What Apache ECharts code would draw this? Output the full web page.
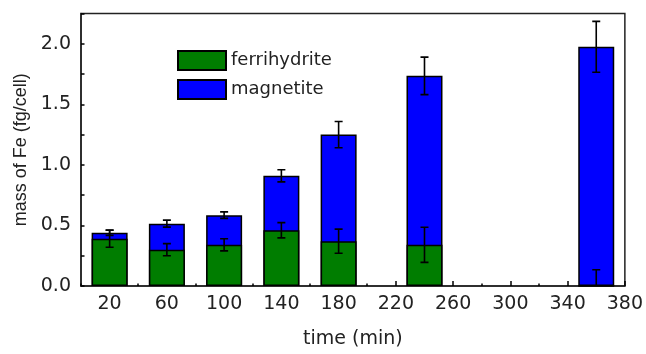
<!DOCTYPE html>
<html>
<head>
<meta charset="utf-8">
<script src="https://cdn.jsdelivr.net/npm/echarts@6/dist/echarts.min.js"></script>
<style>
  html, body { margin: 0; padding: 0; background: #fff; }
  #chart { width: 646px; height: 354px; }
</style>
</head>
<body>
<div id="chart"></div>
<script>
// time points (min)
const times = [20, 60, 100, 140, 180, 240, 360];
// ferrihydrite and magnetite mass (fg/cell), stacked
const ferrihydrite = [0.39, 0.30, 0.34, 0.46, 0.37, 0.34, 0.0];
const magnetite = [0.05, 0.215, 0.245, 0.45, 0.88, 1.395, 1.975];
// error bars: ferrihydrite part and total (top of stack)
const ferriErr = [0.07, 0.05, 0.05, 0.063, 0.10, 0.145, 0.134];
const totalErr = [0.022, 0.029, 0.027, 0.05, 0.108, 0.155, 0.21];
// axis labels
const xTickLabels = [20, 60, 100, 140, 180, 220, 260, 300, 340, 380];
const yTickLabels = [0, 0.5, 1.0, 1.5, 2.0];

const textColor = '#222';
const hFont = 'DejaVu Sans';

// stacking is done by hand: the blue bar goes up to the total, the green one is drawn over it
const totals = times.map((t, i) => ferrihydrite[i] + magnetite[i]);
const ferriData = times.map((t, i) => [t, ferrihydrite[i]]);
const topData = times.map((t, i) => [t, totals[i]]);
const ferriErrData = times.map((t, i) => [t, ferrihydrite[i] - ferriErr[i], ferrihydrite[i] + ferriErr[i]]);
const totalErrData = times.map((t, i) => [t, totals[i] - totalErr[i], totals[i] + totalErr[i]]);

function renderErr(params, api) {
  const x = api.value(0);
  const lo = api.coord([x, api.value(1)]);
  const hi = api.coord([x, api.value(2)]);
  const cap = 4;
  const style = { stroke: '#000', lineWidth: 1.6 };
  return {
    type: 'group',
    children: [
      { type: 'line', shape: { x1: hi[0], y1: hi[1], x2: lo[0], y2: lo[1] }, style: style },
      { type: 'line', shape: { x1: hi[0] - cap, y1: hi[1], x2: hi[0] + cap, y2: hi[1] }, style: style },
      { type: 'line', shape: { x1: lo[0] - cap, y1: lo[1], x2: lo[0] + cap, y2: lo[1] }, style: style }
    ]
  };
}

const myChart = echarts.init(document.getElementById('chart'), null, { renderer: 'canvas' });

myChart.setOption({
  animation: false,
  backgroundColor: '#fff',
  grid: {
    left: 81, right: 18, top: 13.5, bottom: 66,
    show: true, borderColor: '#222', borderWidth: 1.5, backgroundColor: 'transparent'
  },
  legend: {
    left: 177, top: 50, orient: 'vertical', icon: 'rect', padding: 0,
    itemWidth: 48, itemHeight: 19, itemGap: 8,
    data: ['ferrihydrite', 'magnetite'],
    textStyle: { fontFamily: hFont, fontSize: 18, color: textColor }
  },
  xAxis: [
    {
      type: 'value', min: 0, max: 380, interval: 20,
      name: 'time (min)', nameLocation: 'middle', nameGap: 44,
      nameTextStyle: { fontFamily: hFont, fontSize: 19, color: textColor },
      axisLine: { lineStyle: { color: '#222', width: 1.5 } },
      axisTick: { inside: true, length: 5, customValues: xTickLabels, lineStyle: { color: '#000', width: 1.5 } },
      axisLabel: { customValues: xTickLabels, margin: 9, fontFamily: hFont, fontSize: 19, color: textColor },
      splitLine: { show: false }
    },
    {
      type: 'value', min: 0, max: 380, interval: 40, position: 'bottom',
      axisLine: { show: false },
      axisTick: { inside: true, length: 2.5, lineStyle: { color: '#000', width: 1.5 } },
      axisLabel: { show: false },
      splitLine: { show: false }
    }
  ],
  yAxis: {
    type: 'value', min: 0, max: 2.25, interval: 0.25,
    name: 'mass of Fe (fg/cell)', nameLocation: 'middle', nameGap: 48,
    nameTextStyle: { fontFamily: 'Liberation Sans', fontSize: 18, color: textColor },
    axisLine: { show: true, lineStyle: { color: '#222', width: 1.5 } },
    axisTick: { inside: true, length: 3.5, lineStyle: { color: '#000', width: 1.5 } },
    axisLabel: {
      customValues: yTickLabels, margin: 10,
      fontFamily: hFont, fontSize: 19, color: textColor,
      formatter: v => v.toFixed(1)
    },
    splitLine: { show: false }
  },
  series: [
    {
      name: 'magnetite', type: 'bar', data: topData, barWidth: 36, barGap: '-100%',
      itemStyle: { color: '#0000ff', borderColor: '#000', borderWidth: 1.5 }
    },
    {
      name: 'ferrihydrite', type: 'bar', data: ferriData, barWidth: 36, barGap: '-100%',
      itemStyle: { color: '#007d00', borderColor: '#000', borderWidth: 1.5 }
    },
    {
      type: 'custom', name: 'ferriErr', renderItem: renderErr, data: ferriErrData,
      encode: { x: 0, y: [1, 2] }, clip: true, z: 5, silent: true
    },
    {
      type: 'custom', name: 'totalErr', renderItem: renderErr, data: totalErrData,
      encode: { x: 0, y: [1, 2] }, clip: true, z: 5, silent: true
    }
  ]
});

window.addEventListener('resize', () => myChart.resize());
</script>
</body>
</html>
